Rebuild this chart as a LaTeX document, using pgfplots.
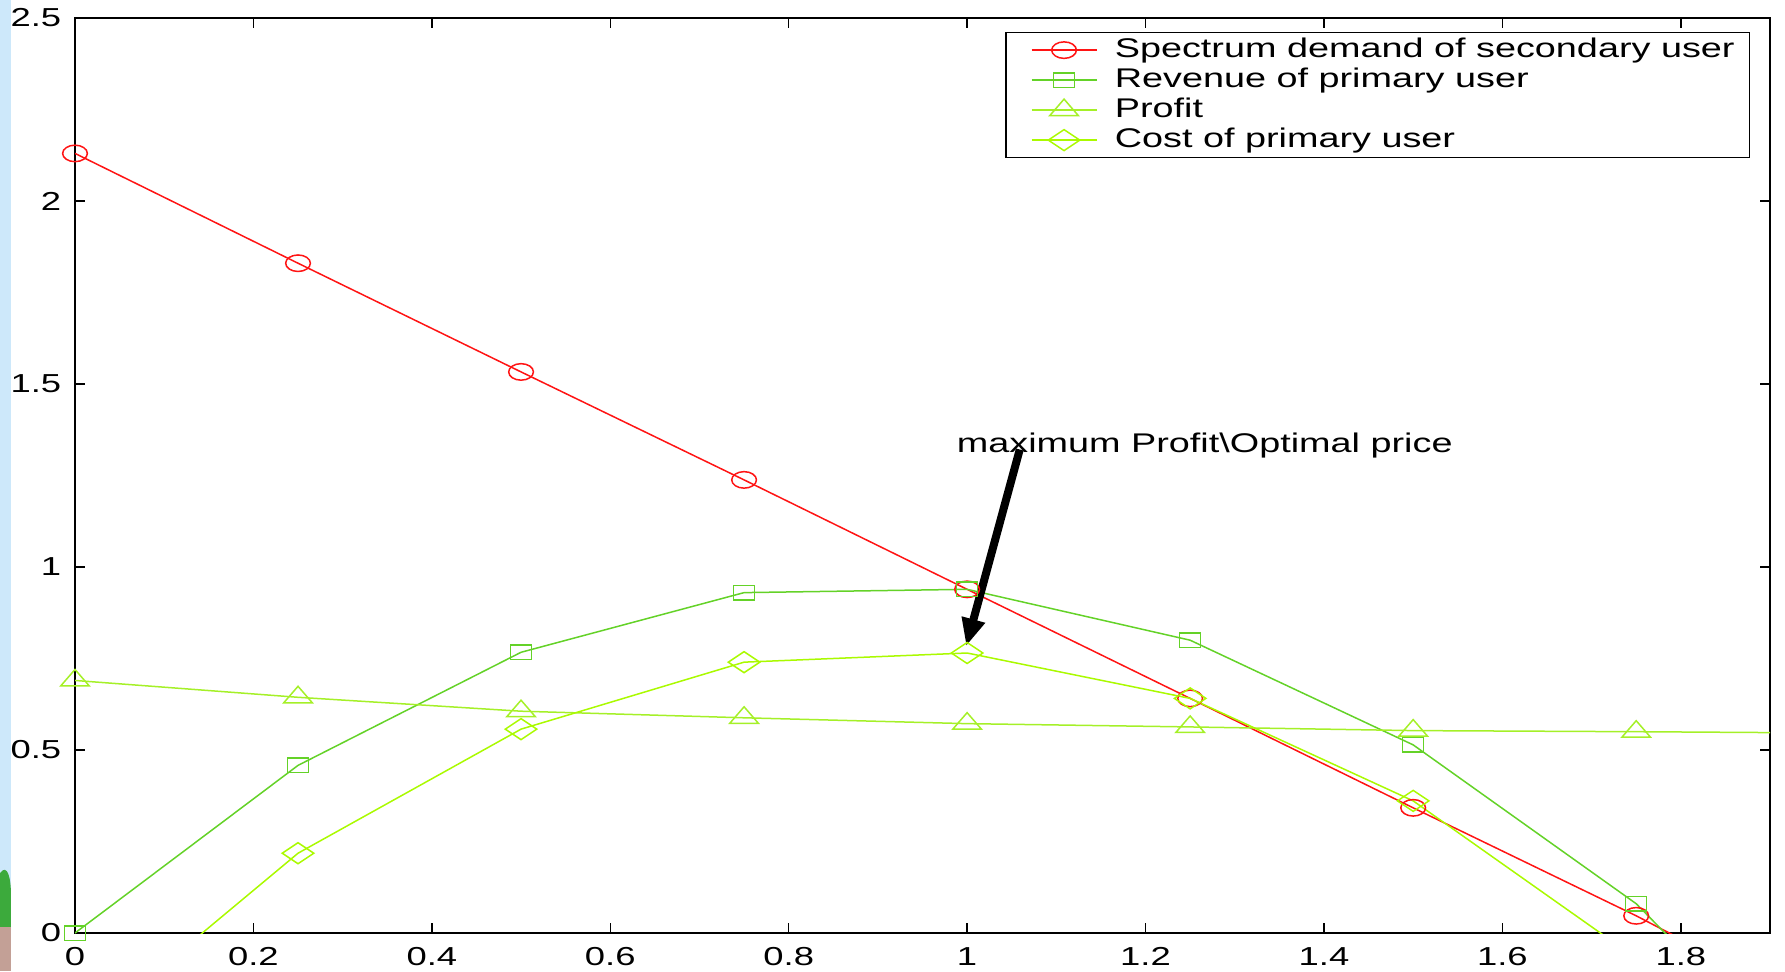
\documentclass[border=0pt]{standalone}
\usepackage{fontspec}
\setmainfont[FakeStretch=1.4]{Liberation Sans}
\usepackage{pgfplots}
\pgfplotsset{compat=1.18}
\usetikzlibrary{arrows.meta}
\definecolor{cdem}{RGB}{255,20,20}
\definecolor{crev}{RGB}{100,210,40}
\definecolor{cprof}{RGB}{165,240,40}
\definecolor{ccost}{RGB}{170,250,0}
\definecolor{bgblue}{RGB}{205,232,250}
\definecolor{bggreen}{RGB}{60,170,60}
\definecolor{bgbrown}{RGB}{195,160,150}
\begin{document}
\begin{tikzpicture}
\begin{axis}[
  width=678pt, height=366pt, scale only axis,
  xmin=0, xmax=1.9, ymin=0, ymax=2.5,
  xtick={0,0.2,0.4,0.6,0.8,1,1.2,1.4,1.6,1.8},
  ytick={0,0.5,1,1.5,2,2.5},
  tick align=inside, major tick length=4pt,
  tick style={black, line width=0.6pt},
  axis line style={black, line width=0.8pt},
  ticklabel style={font=\fontsize{10.4}{12}\selectfont},
  xticklabel style={yshift=-2.4pt},
  yticklabel style={xshift=-2pt},
  /pgf/number format/assume math mode=true,
  legend style={at={(1,1)}, anchor=north east, xshift=-8pt, yshift=-5.6pt,
    draw=black, line width=0.5pt, fill=white,
    font=\fontsize{10.8}{12}\selectfont,
    inner xsep=3.9pt, inner ysep=1pt, row sep=0pt, column sep=5pt,
    nodes={inner ysep=0.5pt, text height=8.5pt, text depth=2.5pt}},
  legend cell align=left,
  legend image code/.code={\path (-6pt,0pt); \draw[#1, mark indices={2}] plot coordinates {(0pt,0pt)(13pt,0pt)(26pt,0pt)};},
  every axis plot/.append style={line width=0.6pt},
]
\addplot[color=cdem, mark=o, mark size=3.3pt, mark indices={1,2,3,4,5,6,7,8}, mark options={xscale=1.5, line width=0.6pt}]
  coordinates {(0,2.13)(0.25,1.83)(0.5,1.533)(0.75,1.238)(1,0.939)(1.25,0.641)(1.5,0.342)(1.75,0.047)(2,-0.27)};
\addlegendentry{Spectrum demand of secondary user}
\addplot[color=crev, mark=square, mark size=2.9pt, mark indices={1,2,3,4,5,6,7,8}, mark options={xscale=1.45, line width=0.6pt}]
  coordinates {(0,0)(0.25,0.458)(0.5,0.767)(0.75,0.93)(1,0.939)(1.25,0.80)(1.5,0.514)(1.75,0.08)(2,-0.54)};
\addlegendentry{Revenue of primary user}
\addplot[color=cprof, mark=triangle, mark size=4.4pt, mark indices={1,2,3,4,5,6,7,8}, mark options={xscale=1.5, line width=0.6pt}]
  coordinates {(0,0.69)(0.25,0.644)(0.5,0.606)(0.75,0.588)(1,0.572)(1.25,0.563)(1.5,0.553)(1.75,0.55)(2,0.546)};
\addlegendentry{Profit}
\addplot[color=ccost, mark=diamond, mark size=4.2pt, mark indices={100}, mark options={xscale=2.0, line width=0.6pt}]
  coordinates {(0,-0.29)(0.25,0.218)(0.5,0.557)(0.75,0.74)(1,0.765)(1.25,0.641)(1.5,0.361)(1.75,-0.069)(2,-0.6)};
\addlegendentry{Cost of primary user}
\addplot[forget plot, only marks, color=ccost, mark=diamond, mark size=4.2pt, mark options={xscale=2.0, line width=0.6pt}]
  coordinates {(0.25,0.218)(0.5,0.557)(0.75,0.74)(1,0.765)(1.25,0.641)(1.5,0.361)};
\node[anchor=west, inner sep=0pt, font=\fontsize{10.8}{12}\selectfont] at (axis cs:0.988,1.331) {maximum Profit\textbackslash Optimal price};
\draw[black, line width=3.2pt, -{Triangle[length=11pt,width=9pt]}] (axis cs:1.059,1.321) -- (axis cs:0.999,0.784);
\end{axis}
\fill[bgblue] (-30pt,2.4pt) rectangle (-25.6pt,373.2pt);
\fill[bggreen] (-30pt,2.4pt) -- (-30pt,24pt) .. controls (-27pt,28pt) and (-25.6pt,22pt) .. (-25.6pt,15pt) -- (-25.6pt,2.4pt) -- cycle;
\fill[bgbrown] (-30pt,-15.2pt) rectangle (-25.6pt,2.4pt);
\pgfresetboundingbox
\useasboundingbox (-30pt,-15.2pt) rectangle (684pt,373.2pt);
\end{tikzpicture}
\end{document}
